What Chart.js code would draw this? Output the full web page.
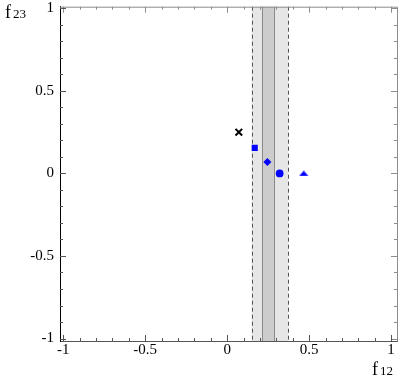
<!DOCTYPE html>
<html>
<head>
<meta charset="utf-8">
<script src="https://cdn.jsdelivr.net/npm/chart.js@4.4.1/dist/chart.umd.min.js"></script>
<style>
  html, body { margin: 0; padding: 0; background: #fff; }
  #wrap { width: 409px; height: 379px; position: relative; }
</style>
</head>
<body>
<div id="wrap"><canvas id="chart"></canvas></div>
<script>
// axis ticks
const tickVals = [-1, -0.5, 0, 0.5, 1];
const tickLabels = ['-1', '-0.5', '0', '0.5', '1'];

// points (f12, f23)
const crossPt = [{x: 0.071, y: 0.25}];
const squarePt = [{x: 0.168, y: 0.155}];
const diamondPt = [{x: 0.245, y: 0.07}];
const circlePt = [{x: 0.32, y: 0}];
const trianglePt = [{x: 0.467, y: 0}];

// bands on f12
const outerBand = [0.149, 0.373];
const innerBand = [0.212, 0.285];

const blue = '#0000ff';
const serif = '"Liberation Serif", "DejaVu Serif", serif';

// flat triangle marker
const tri = document.createElement('canvas');
tri.width = 10; tri.height = 6;
(function(){
  const c = tri.getContext('2d');
  c.fillStyle = blue;
  c.beginPath();
  c.moveTo(5, 0.3); c.lineTo(9.8, 5.8); c.lineTo(0.2, 5.8);
  c.closePath(); c.fill();
})();

const bandPlugin = {
  id: 'band',
  beforeDatasetsDraw(chart) {
    const {ctx, chartArea: a, scales: {x}} = chart;
    const ox0 = x.getPixelForValue(outerBand[0]), ox1 = x.getPixelForValue(outerBand[1]);
    const ix0 = x.getPixelForValue(innerBand[0]), ix1 = x.getPixelForValue(innerBand[1]);
    ctx.save();
    ctx.fillStyle = '#e6e6e6';
    ctx.fillRect(ox0, a.top, ox1 - ox0, a.bottom - a.top);
    ctx.fillStyle = '#cccccc';
    ctx.fillRect(ix0, a.top, ix1 - ix0, a.bottom - a.top);
    ctx.lineWidth = 1;
    ctx.strokeStyle = '#8a8a8a';
    [ix0, ix1].forEach(px => {
      ctx.beginPath(); ctx.moveTo(Math.round(px) + 0.5, a.top); ctx.lineTo(Math.round(px) + 0.5, a.bottom); ctx.stroke();
    });
    ctx.strokeStyle = '#555';
    ctx.setLineDash([4, 3]);
    [ox0, ox1].forEach(px => {
      ctx.beginPath(); ctx.moveTo(Math.round(px) + 0.5, a.top); ctx.lineTo(Math.round(px) + 0.5, a.bottom); ctx.stroke();
    });
    ctx.restore();
  }
};

const framePlugin = {
  id: 'frame',
  afterDraw(chart) {
    const {ctx, chartArea: a, scales: {x, y}} = chart;
    ctx.save();
    ctx.lineWidth = 1;
    // top and right frame
    ctx.strokeStyle = '#8c8c8c';
    ctx.beginPath();
    ctx.moveTo(a.left, a.top + 0.5); ctx.lineTo(a.right + 0.5, a.top + 0.5);
    ctx.lineTo(a.right + 0.5, a.bottom);
    ctx.stroke();
    // inward ticks
    for (let i = -10; i <= 10; i++) {
      const v = i / 10;
      const major = i % 5 === 0;
      const len = major ? 6 : 3;
      const px = Math.round(x.getPixelForValue(v)) + 0.5;
      const py = Math.round(y.getPixelForValue(v)) + 0.5;
      ctx.strokeStyle = '#555';
      ctx.beginPath();
      ctx.moveTo(px, a.bottom); ctx.lineTo(px, a.bottom - len);
      ctx.moveTo(a.left, py); ctx.lineTo(a.left + len, py);
      ctx.stroke();
      ctx.strokeStyle = '#8c8c8c';
      ctx.beginPath();
      ctx.moveTo(px, a.top); ctx.lineTo(px, a.top + len);
      ctx.moveTo(a.right, py); ctx.lineTo(a.right - len, py);
      ctx.stroke();
    }
    // axis titles
    ctx.fillStyle = '#000';
    ctx.textBaseline = 'alphabetic';
    ctx.textAlign = 'left';
    ctx.font = '18px ' + serif;
    ctx.fillText('f', 5, 18);
    ctx.fillText('f', 372, 375);
    ctx.font = '13px ' + serif;
    ctx.fillText('23', 13, 18);
    ctx.fillText('12', 380, 375);
    ctx.restore();
  }
};

const setTicks = scale => { scale.ticks = tickVals.map(v => ({value: v})); };
const fmt = v => tickLabels[tickVals.indexOf(v)] ?? '';

new Chart(document.getElementById('chart'), {
  type: 'scatter',
  data: {
    datasets: [
      {data: crossPt, pointStyle: 'crossRot', radius: 4.7, borderColor: '#000', borderWidth: 2},
      {data: squarePt, pointStyle: 'rect', radius: 4.3, backgroundColor: blue, borderColor: blue, borderWidth: 0},
      {data: diamondPt, pointStyle: 'rectRot', radius: 4, backgroundColor: blue, borderColor: blue, borderWidth: 0},
      {data: circlePt, pointStyle: 'circle', radius: 3.9, backgroundColor: blue, borderColor: blue, borderWidth: 0},
      {data: trianglePt, pointStyle: tri, radius: 5}
    ]
  },
  options: {
    responsive: true,
    maintainAspectRatio: false,
    animation: false,
    layout: {padding: {top: 5, right: 12, left: 0, bottom: 0}},
    scales: {
      x: {
        type: 'linear', min: -1.02, max: 1.036,
        afterBuildTicks: setTicks,
        afterFit(scale) { scale.height = 38; scale.paddingLeft = 0; scale.paddingRight = 0; },
        grid: {display: false, drawTicks: false},
        border: {display: true, color: '#555', width: 1},
        ticks: {callback: fmt, color: '#000', padding: 0, maxRotation: 0, font: {family: serif, size: 15}}
      },
      y: {
        type: 'linear', min: -1.015, max: 1.01,
        afterBuildTicks: setTicks,
        afterFit(scale) { scale.width = 60; scale.paddingTop = 0; scale.paddingBottom = 0; },
        grid: {display: false, drawTicks: false},
        border: {display: true, color: '#000', width: 1},
        ticks: {callback: fmt, color: '#000', padding: 6, font: {family: serif, size: 15}}
      }
    },
    plugins: {legend: {display: false}, tooltip: {enabled: false}}
  },
  plugins: [bandPlugin, framePlugin]
});
</script>
</body>
</html>
